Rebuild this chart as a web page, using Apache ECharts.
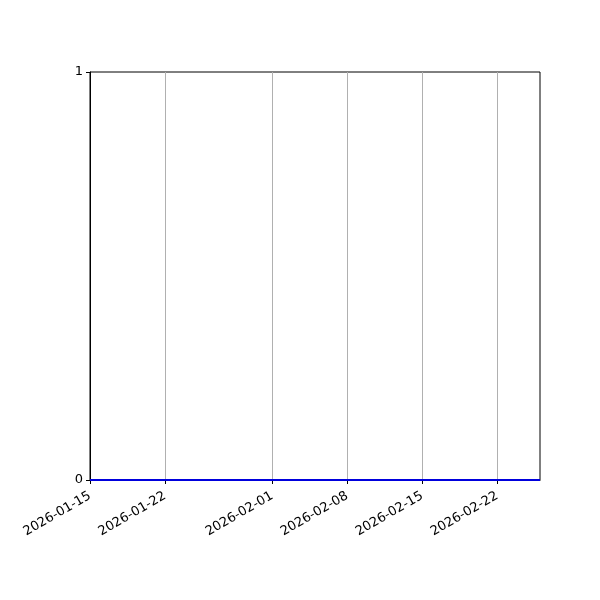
<!DOCTYPE html>
<html>
<head>
<meta charset="utf-8">
<script src="https://cdn.jsdelivr.net/npm/echarts@6/dist/echarts.min.js"></script>
<style>
html,body{margin:0;padding:0;background:#fff;}
#chart{width:600px;height:600px;}
</style>
</head>
<body>
<div id="chart"></div>
<script>
const dates = ['2026-01-15','2026-01-22','2026-01-29','2026-02-05','2026-02-12','2026-02-19','2026-02-26'];
const values = [0, 0, 0, 0, 0, 0, 0];
const xTicks = ['2026-01-15','2026-01-22','2026-02-01','2026-02-08','2026-02-15','2026-02-22'];
const yTicks = [0, 1];
const xMin = '2026-01-15';
const xMax = '2026-02-26';

function ts(s){ const p = s.split('-').map(Number); return Date.UTC(p[0], p[1]-1, p[2]); }
function fmt(v){ const d = new Date(v); const m = String(d.getUTCMonth()+1).padStart(2,'0'); const dd = String(d.getUTCDate()).padStart(2,'0'); return d.getUTCFullYear()+'-'+m+'-'+dd; }

const chart = echarts.init(document.getElementById('chart'), null, {renderer:'canvas'});
const font = 'DejaVu Sans';
chart.setOption({
  animation: false,
  backgroundColor: '#fff',
  grid: { left: 90, right: 60, top: 72, bottom: 120, show: true, borderColor: '#000', borderWidth: 1, backgroundColor: 'transparent' },
  xAxis: {
    type: 'value',
    min: ts(xMin), max: ts(xMax),
    axisLine: { show: true, onZero: false, lineStyle: { color: '#000', width: 1 } },
    axisTick: { show: true, length: 4, lineStyle: { color: '#000' }, customValues: xTicks.map(ts) },
    axisLabel: {
      customValues: xTicks.map(ts),
      formatter: v => fmt(v),
      rotate: 30, color: '#000', fontFamily: font, fontSize: 13, margin: 15, hideOverlap: false,
      showMinLabel: true, showMaxLabel: true
    },
    splitLine: { show: false }
  },
  yAxis: {
    type: 'value', min: 0, max: 1, interval: 1,
    axisLine: { show: true, lineStyle: { color: '#000' } },
    axisTick: { show: true, length: 4, lineStyle: { color: '#000' } },
    axisLabel: { color: '#000', fontFamily: font, fontSize: 13, margin: 7, verticalAlign: 'middle', lineHeight: 18, formatter: v => yTicks.includes(v) ? String(v) : '' },
    splitLine: { show: false }
  },
  series: [{
    type: 'line',
    data: dates.map((d, i) => [ts(d), values[i]]),
    showSymbol: false,
    lineStyle: { color: '#0000dd', width: 2 },
    itemStyle: { color: '#0000dd' },
    z: 5,
    markLine: {
      silent: true, symbol: 'none', label: { show: false },
      lineStyle: { color: '#b0b0b0', width: 1, type: 'solid' },
      z: 1,
      data: xTicks.slice(1).map(t => ({ xAxis: ts(t) }))
    }
  }]
});
</script>
</body>
</html>
